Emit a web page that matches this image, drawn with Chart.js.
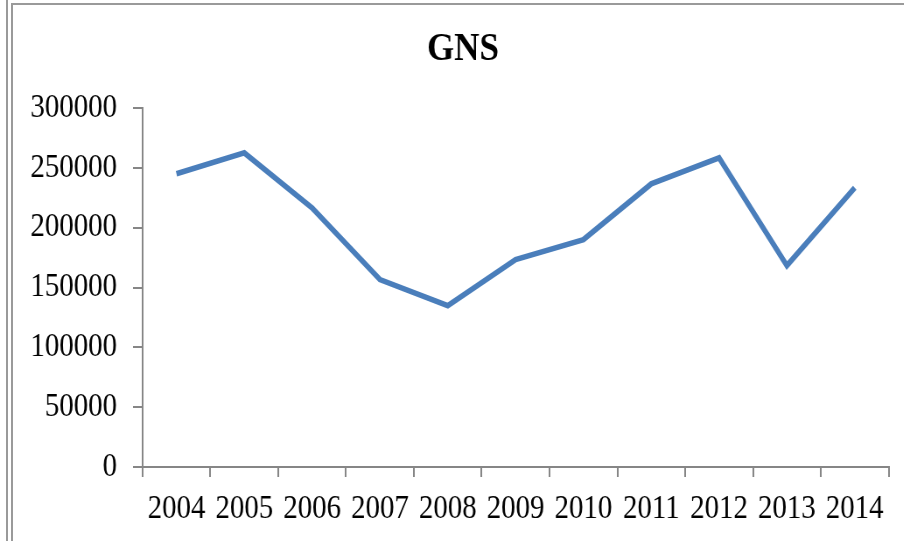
<!DOCTYPE html>
<html>
<head>
<meta charset="utf-8">
<script src="https://cdn.jsdelivr.net/npm/chart.js@4/dist/chart.umd.min.js"></script>
<style>
  html, body { margin:0; padding:0; background:#fff; overflow:hidden; }
  #page { position:relative; width:904px; height:541px; overflow:hidden; background:#fff; }
  #wrap { position:absolute; left:0; top:0; width:1033px; height:541px; transform:scaleX(0.875); transform-origin:0 0; }
  .ln { position:absolute; background:#9a9a9a; }
</style>
</head>
<body>
<div id="page">
  <div id="wrap"><canvas id="c"></canvas></div>
  <div class="ln" style="left:6px; top:0; width:2px; height:541px;"></div>
  <div class="ln" style="left:11px; top:3px; width:2px; height:538px;"></div>
  <div class="ln" style="left:11px; top:3px; width:893px; height:2px;"></div>
</div>
<script>
const categories = ['2004','2005','2006','2007','2008','2009','2010','2011','2012','2013','2014'];
const gnsValues = [245000, 262500, 216500, 156600, 134900, 173300, 190000, 236600, 258400, 168300, 233300];
const yTickValues = [0, 50000, 100000, 150000, 200000, 250000, 300000];
const chartTitle = 'GNS';

const axisGray = '#868686';
const tickFont = { family: 'Liberation Serif', size: 33 };

const titleShift = {
  id: 'titleShift',
  afterLayout(chart) {
    if (chart.titleBlock) { chart.titleBlock.left = 42.5; }
  }
};

new Chart(document.getElementById('c'), {
  type: 'line',
  data: {
    labels: categories,
    datasets: [{
      label: chartTitle,
      data: gnsValues,
      borderColor: '#4a7ebb',
      backgroundColor: '#4a7ebb',
      borderWidth: 5.6,
      pointRadius: 0,
      tension: 0,
      fill: false
    }]
  },
  plugins: [titleShift],
  options: {
    responsive: true,
    maintainAspectRatio: false,
    animation: false,
    layout: { padding: { left: 0, right: 17.4, top: 0, bottom: 0 } },
    plugins: {
      legend: { display: false },
      tooltip: { enabled: false },
      title: {
        display: true,
        text: chartTitle,
        color: '#000',
        font: { family: 'Liberation Serif', size: 40, weight: 'bold' },
        padding: { top: 26, bottom: 34 }
      }
    },
    scales: {
      x: {
        type: 'category',
        offset: true,
        grid: { offset: true, drawOnChartArea: false, drawTicks: true, tickLength: 10, color: axisGray, lineWidth: 2 },
        border: { color: axisGray, width: 2 },
        ticks: { padding: 13, color: '#000', font: tickFont, maxRotation: 0, autoSkip: false },
        afterFit: s => { s.height = 74; }
      },
      y: {
        min: 0,
        max: 300000,
        afterBuildTicks: s => { s.ticks = yTickValues.map(v => ({ value: v })); },
        grid: { drawOnChartArea: false, drawTicks: true, tickLength: 10.9, color: axisGray, lineWidth: 2 },
        border: { color: axisGray, width: 2 },
        ticks: { padding: 18.3, color: '#000', font: tickFont, callback: v => String(v) },
        afterFit: s => { s.width = 162.9; }
      }
    }
  }
});
</script>
</body>
</html>
